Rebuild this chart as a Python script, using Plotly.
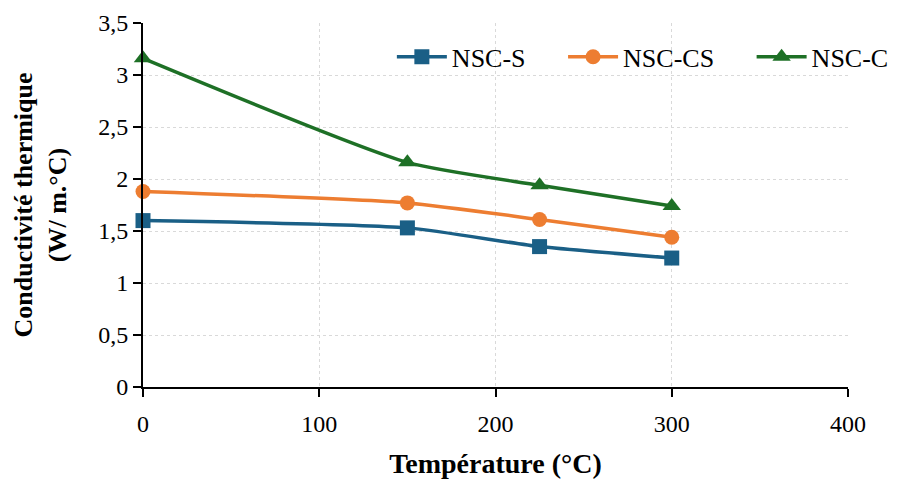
import plotly.graph_objects as go

temperature = [0, 150, 225, 300]
nsc_s = [1.60, 1.53, 1.35, 1.24]
nsc_cs = [1.88, 1.77, 1.61, 1.44]
nsc_c = [3.16, 2.16, 1.94, 1.74]

series = [
    ("NSC-S", nsc_s, "#1a5f86", "square", 15),
    ("NSC-CS", nsc_cs, "#ed7d31", "circle", 15),
    ("NSC-C", nsc_c, "#1e7026", "triangle-up", 16),
]

font_family = "Liberation Serif"
pad = "\u00a0\u00a0\u00a0\u00a0\u00a0"

fig = go.Figure()
for i, (name, vals, color, sym, size) in enumerate(series):
    label = name + (pad if i < len(series) - 1 else "")
    fig.add_trace(go.Scatter(
        x=temperature, y=vals, name=label, mode="lines+markers",
        line=dict(color=color, width=3.5, shape="spline", smoothing=0.6),
        marker=dict(symbol=sym, size=size, color=color),
        cliponaxis=False,
    ))

fig.update_layout(
    width=894, height=471,
    margin=dict(l=135, r=54, t=15, b=92, autoexpand=False),
    plot_bgcolor="white", paper_bgcolor="white",
    separators=", ",
    font=dict(family=font_family, size=24, color="black"),
    showlegend=True,
    legend=dict(orientation="h", x=0.353, y=0.907, xanchor="left", yanchor="middle",
                font=dict(size=26, family=font_family), bgcolor="rgba(0,0,0,0)",
                itemwidth=50, tracegroupgap=0, borderwidth=0),
    xaxis=dict(
        range=[0, 400], tickvals=[0, 100, 200, 300, 400],
        showline=True, linecolor="black", linewidth=2,
        ticks="outside", ticklen=8, tickcolor="black", tickwidth=2,
        showgrid=True, gridcolor="#d9d9d9", griddash="dot", gridwidth=1,
        zeroline=False, automargin=False, ticklabelstandoff=6,
        title=dict(text="<b>Température (°C)</b>", font=dict(size=28), standoff=18),
        tickfont=dict(size=24),
    ),
    yaxis=dict(
        range=[0, 3.5], tickvals=[0, 0.5, 1, 1.5, 2, 2.5, 3, 3.5],
        showline=True, linecolor="black", linewidth=2,
        ticks="outside", ticklen=8, tickcolor="black", tickwidth=2,
        showgrid=True, gridcolor="#d9d9d9", griddash="dot", gridwidth=1,
        zeroline=False, automargin=False,
        title=dict(text="<b>Conductivité thermique<br>(W/ m.°C)</b>", font=dict(size=26), standoff=24),
        tickfont=dict(size=24),
    ),
)

fig.write_html("out.html")
